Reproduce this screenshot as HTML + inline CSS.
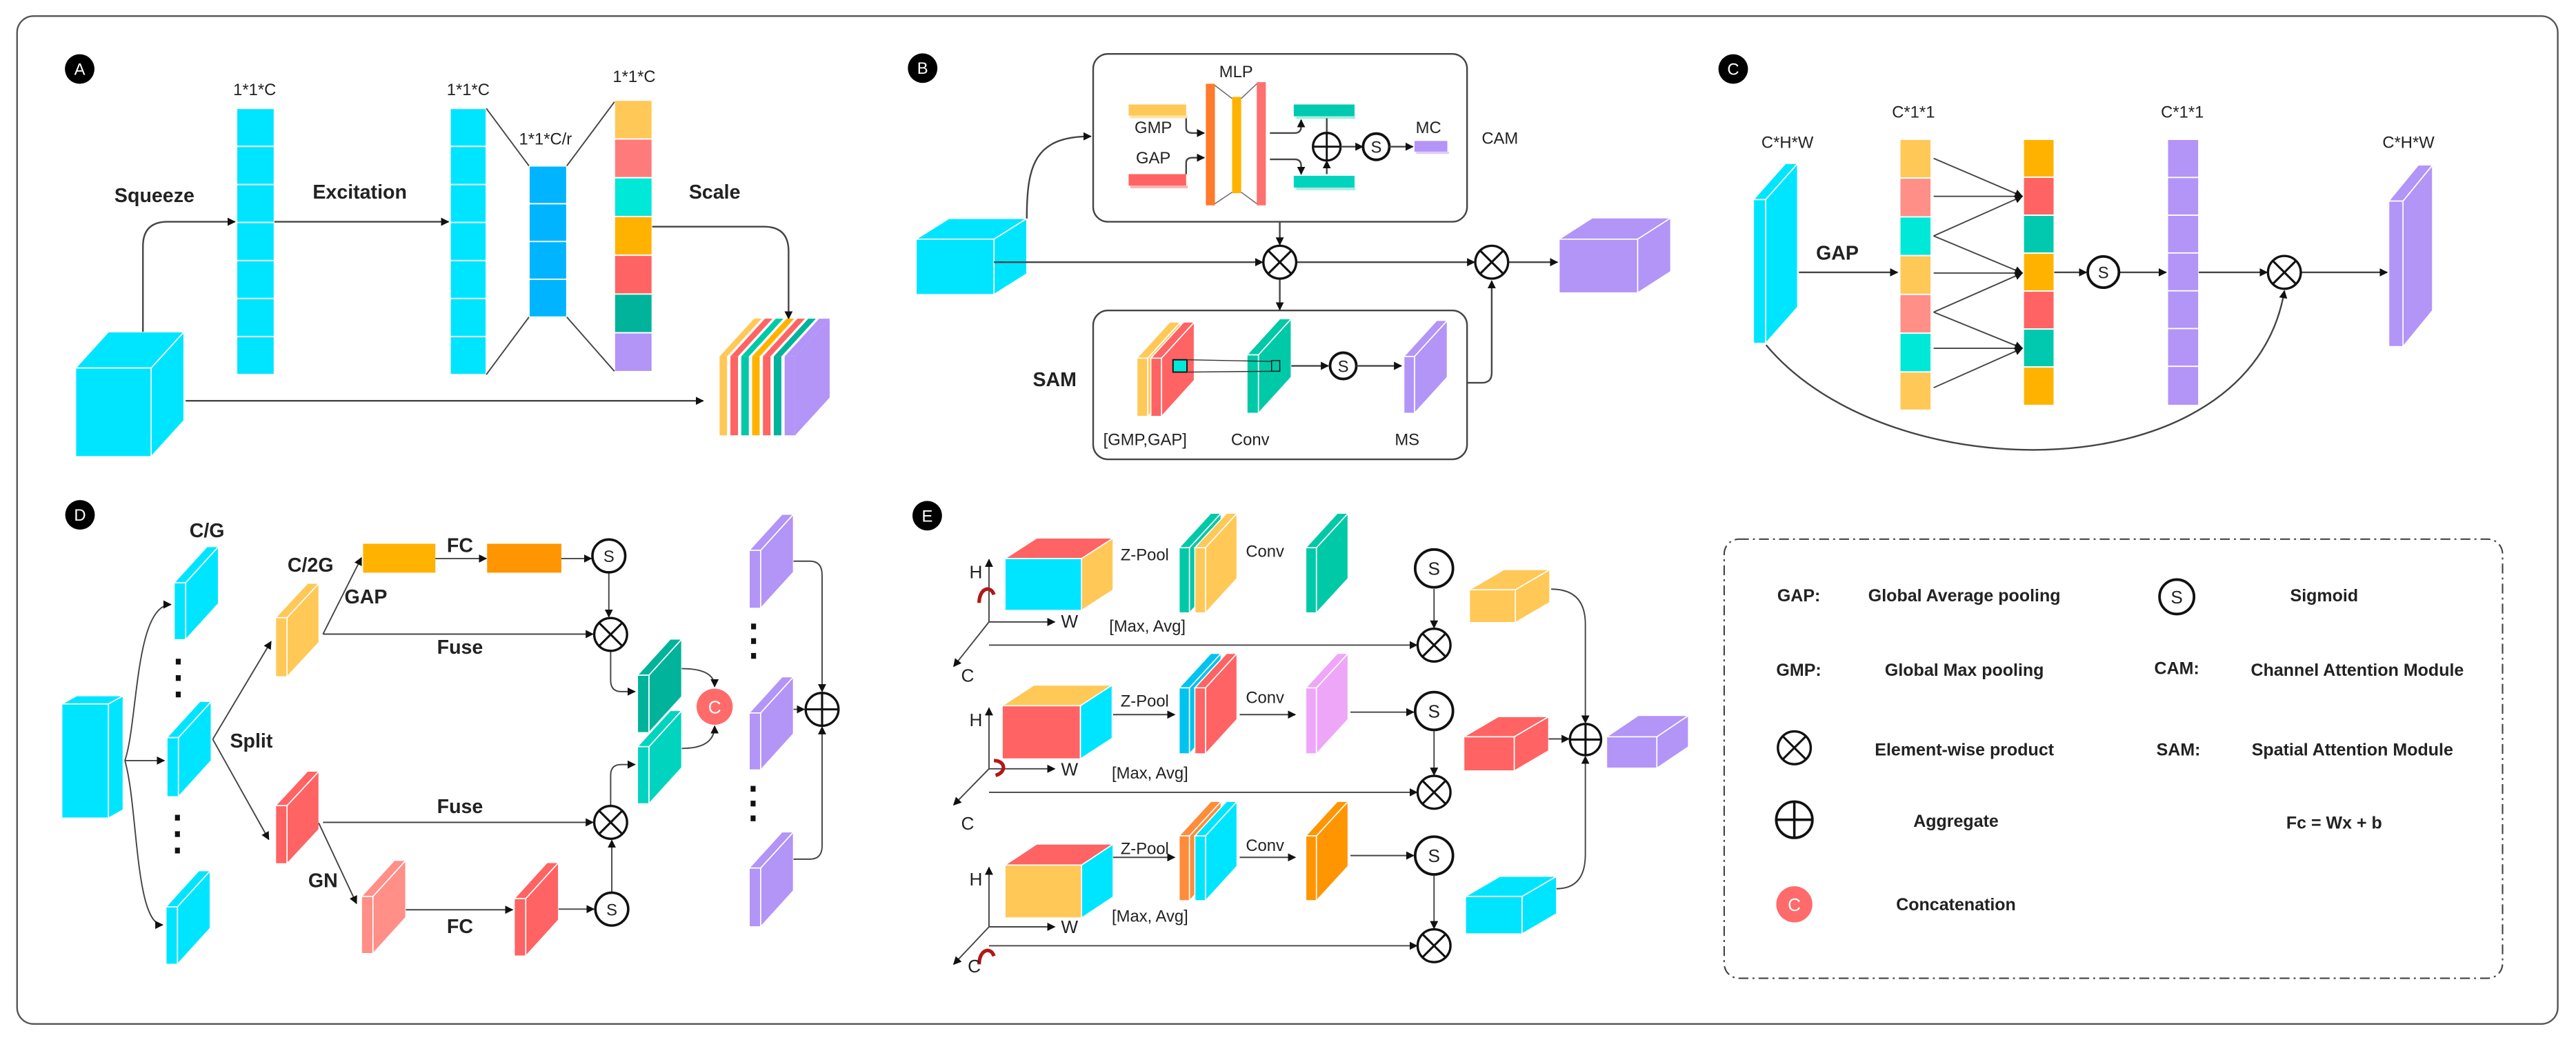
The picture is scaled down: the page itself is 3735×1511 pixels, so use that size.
<!DOCTYPE html>
<html><head><meta charset="utf-8"><style>
html,body{margin:0;padding:0;background:#fff;}
svg{display:block;}
text{font-family:"Liberation Sans",Arial,sans-serif;fill:#222;}
.b{font-weight:bold;}
.ln{stroke:#444;stroke-width:1;fill:none;}
.s{stroke:#fff;stroke-width:0.7;}
</style></head><body>
<svg width="3735" height="1511" viewBox="0 0 1568 634.3" preserveAspectRatio="none" xmlns="http://www.w3.org/2000/svg">
<defs>
<marker id="a" viewBox="0 0 10 10" refX="9" refY="5" markerWidth="5" markerHeight="5" orient="auto" markerUnits="userSpaceOnUse"><path d="M0,0L10,5L0,10z" fill="#111"/></marker>
</defs>
<rect x="0" y="0" width="1568" height="634.3" fill="#fff"/>
<rect x="10.4" y="9.8" width="1546.5" height="613.5" rx="10" fill="none" stroke="#555" stroke-width="1"/>

<!-- badges -->
<g font-size="10" text-anchor="middle">
<circle cx="48.5" cy="42" r="9" fill="#000"/><text x="48.5" y="45.5" style="fill:#fff">A</text>
<circle cx="561.6" cy="41.5" r="9" fill="#000"/><text x="561.6" y="45" style="fill:#fff">B</text>
<circle cx="1055" cy="42" r="9" fill="#000"/><text x="1055" y="45.5" style="fill:#fff">C</text>
<circle cx="48.7" cy="313.4" r="9" fill="#000"/><text x="48.7" y="317" style="fill:#fff">D</text>
<circle cx="564.4" cy="313.9" r="9" fill="#000"/><text x="564.4" y="317.5" style="fill:#fff">E</text>
</g>

<!-- ================= PANEL A ================= -->
<g class="s">
<polygon points="92,224 112,202 112,256 92,278" fill="#00E5FF"/>
<polygon points="46,224 66,202 112,202 92,224" fill="#00E5FF"/>
<rect x="46" y="224" width="46" height="54" fill="#00E5FF"/>
</g>
<g stroke="#fff" stroke-width="0.8">
<rect x="144" y="66" width="23" height="162" fill="#00E5FF"/>
<path d="M144,89.1h23M144,112.3h23M144,135.4h23M144,158.6h23M144,181.7h23M144,204.9h23"/>
<rect x="274" y="66" width="22" height="162" fill="#00E5FF"/>
<path d="M274,89.1h22M274,112.3h22M274,135.4h22M274,158.6h22M274,181.7h22M274,204.9h22"/>
<rect x="322" y="101" width="23" height="92" fill="#00B4FF"/>
<path d="M322,124h23M322,147h23M322,170h23"/>
<rect x="374" y="61" width="23" height="23.6" fill="#FFC857"/>
<rect x="374" y="84.6" width="23" height="23.6" fill="#FF7B7B"/>
<rect x="374" y="108.2" width="23" height="23.6" fill="#00E8D8"/>
<rect x="374" y="131.8" width="23" height="23.6" fill="#FFB300"/>
<rect x="374" y="155.4" width="23" height="23.6" fill="#FF6363"/>
<rect x="374" y="179" width="23" height="23.6" fill="#00B39A"/>
<rect x="374" y="202.6" width="23" height="23.6" fill="#B394F7"/>
</g>
<path d="M296,66L322,101M296,228L322,193M345,101L374,62M345,193L374,226" stroke="#444" stroke-width="0.8" fill="none"/>
<g font-size="10" text-anchor="middle">
<text x="155" y="58">1*1*C</text><text x="285" y="58">1*1*C</text>
<text x="332" y="88">1*1*C/r</text><text x="386" y="50">1*1*C</text>
</g>
<g font-size="12" class="b" text-anchor="middle">
<text x="94" y="123" class="b">Squeeze</text><text x="219" y="121" class="b">Excitation</text><text x="435" y="121" class="b">Scale</text>
</g>
<path class="ln" d="M87,202L87,150Q87,135 102,135L143,135" marker-end="url(#a)"/>
<path class="ln" d="M167,135L273,135" marker-end="url(#a)"/>
<path class="ln" d="M397,138L465,138Q480,138 480,153L480,194" marker-end="url(#a)"/>
<path class="ln" d="M113,244L428,244" marker-end="url(#a)"/>
<!-- striped cube -->
<g>
<polygon points="484,217 505,194 505,242 484,265" fill="#B394F7"/>
<rect x="438" y="217" width="4.6" height="48" fill="#FFC857"/><polygon points="438,217 459,194 463.6,194 442.6,217" fill="#FFC857"/>
<rect x="444.6" y="217" width="4.6" height="48" fill="#FF6363"/><polygon points="444.6,217 465.6,194 470.2,194 449.2,217" fill="#FF6363"/>
<rect x="451.2" y="217" width="4.6" height="48" fill="#00C9A7"/><polygon points="451.2,217 472.2,194 476.8,194 455.8,217" fill="#00C9A7"/>
<rect x="457.8" y="217" width="4.6" height="48" fill="#FFB300"/><polygon points="457.8,217 478.8,194 483.4,194 462.4,217" fill="#FFB300"/>
<rect x="464.4" y="217" width="4.6" height="48" fill="#FF6363"/><polygon points="464.4,217 485.4,194 490,194 469,217" fill="#FF6363"/>
<rect x="471" y="217" width="4.6" height="48" fill="#00B39A"/><polygon points="471,217 492,194 496.6,194 475.6,217" fill="#00B39A"/>
<rect x="477.6" y="217" width="6.4" height="48" fill="#B394F7"/><polygon points="477.6,217 498.6,194 505,194 484,217" fill="#B394F7"/>
</g>

<!-- ================= PANEL B ================= -->
<rect x="665.4" y="32.8" width="227.6" height="102.2" rx="9" fill="none" stroke="#444" stroke-width="1"/>
<rect x="665.4" y="189" width="227.6" height="90.6" rx="9" fill="none" stroke="#444" stroke-width="1"/>
<g class="s">
<polygon points="605,145.6 625,133 625,166.7 605,179.3" fill="#00E5FF"/>
<polygon points="557.6,145.6 577.6,133 625,133 605,145.6" fill="#00E5FF"/>
<rect x="557.6" y="145.6" width="47.4" height="33.7" fill="#00E5FF"/>
<polygon points="996.8,145.6 1017,132.6 1017,165.3 996.8,178.3" fill="#B394F7"/>
<polygon points="949,145.6 969.2,132.6 1017,132.6 996.8,145.6" fill="#B394F7"/>
<rect x="949" y="145.6" width="47.8" height="32.7" fill="#B394F7"/>
</g>
<!-- CAM contents -->
<rect x="687" y="63.6" width="35" height="6.8" fill="#FFC857"/><rect x="688" y="70.4" width="35" height="1.6" fill="#FFE3A6"/>
<rect x="687" y="106" width="35" height="7" fill="#FF6363"/><rect x="688" y="113" width="35" height="1.6" fill="#FFB3B3"/>
<rect x="734" y="51" width="5.5" height="74" fill="#FF7A2A"/>
<rect x="750" y="59" width="5.5" height="58.6" fill="#FFB300"/>
<rect x="765" y="50" width="5.5" height="75" fill="#FF7070"/>
<path d="M739.5,52L750,60M765,51L755.5,60M739.5,124L750,117M765,124L755.5,117" stroke="#666" stroke-width="0.6" fill="none"/>
<rect x="787.5" y="63.6" width="37" height="7.2" fill="#00C9B0"/><rect x="789" y="70.8" width="36" height="1.6" fill="#A5EEE0"/>
<rect x="787.5" y="107" width="37" height="7.2" fill="#00D4BE"/><rect x="789" y="114.2" width="36" height="1.6" fill="#A5EEE0"/>
<rect x="861" y="85.8" width="20" height="6.5" fill="#B394F7"/><rect x="862" y="92.3" width="20" height="1.4" fill="#DCCBFC"/>
<path class="ln" d="M722,72L722,78Q722,81 726,81L733,81" marker-end="url(#a)" stroke-width="0.8"/>
<path class="ln" d="M722,106L722,99Q722,96 726,96L733,96" marker-end="url(#a)" stroke-width="0.8"/>
<path class="ln" d="M773,81L788,81Q792,81 792,77L792,73" marker-end="url(#a)" stroke-width="0.8"/>
<path class="ln" d="M773,97L788,97Q792,97 792,101L792,106" marker-end="url(#a)" stroke-width="0.8"/>
<path class="ln" d="M807.6,72L807.6,80.5M807.6,106L807.6,98" marker-end="url(#a)" stroke-width="0.8"/>
<circle cx="807.6" cy="89.3" r="8.4" fill="#fff" stroke="#111" stroke-width="1.4"/>
<path d="M799.2,89.3h16.8M807.6,80.9v16.8" stroke="#111" stroke-width="1.2"/>
<path class="ln" d="M816,89.3L829.5,89.3" marker-end="url(#a)" stroke-width="0.8"/>
<circle cx="837.7" cy="89.3" r="8" fill="#fff" stroke="#111" stroke-width="1.6"/>
<text x="837.7" y="93" font-size="10" text-anchor="middle">S</text>
<path class="ln" d="M845.7,89.3L860,89.3" marker-end="url(#a)" stroke-width="0.8"/>
<g font-size="10" text-anchor="middle">
<text x="752.4" y="47">MLP</text>
<text x="702" y="81">GMP</text><text x="702" y="99.5">GAP</text>
<text x="869.5" y="81">MC</text><text x="913" y="87.5">CAM</text>
<text x="697" y="271">[GMP,GAP]</text><text x="761" y="271">Conv</text><text x="856.5" y="271">MS</text>
</g>
<text x="642" y="235" font-size="12" class="b" text-anchor="middle">SAM</text>
<!-- SAM contents -->
<g class="s">
<polygon points="698.6,218 718.6,196 718.6,231.5 698.6,253.5" fill="#FFC857"/>
<polygon points="692,218 712,196 718.6,196 698.6,218" fill="#FFC857"/>
<rect x="692" y="218" width="6.6" height="35.5" fill="#FFC857"/>
<polygon points="707,218 727,196 727,231.5 707,253.5" fill="#FF6363"/>
<polygon points="700.5,218 720.5,196 727,196 707,218" fill="#FF6363"/>
<rect x="700.5" y="218" width="6.5" height="35.5" fill="#FF6363"/>
<polygon points="766,216 786,194 786,229.6 766,251.6" fill="#00C9A7"/>
<polygon points="759,216 779,194 786,194 766,216" fill="#00C9A7"/>
<rect x="759" y="216" width="7" height="35.6" fill="#00C9A7"/>
<polygon points="861,217 881,195 881,229.6 861,251.6" fill="#B394F7"/>
<polygon points="854.5,217 874.5,195 881,195 861,217" fill="#B394F7"/>
<rect x="854.5" y="217" width="6.5" height="34.6" fill="#B394F7"/>
</g>
<rect x="714" y="219" width="8.5" height="7.5" fill="#00E8D8" stroke="#111" stroke-width="0.8"/>
<rect x="774" y="219.5" width="5" height="6.5" fill="none" stroke="#111" stroke-width="0.6"/>
<path d="M722.5,219L774,220M722.5,226.5L774,226" stroke="#333" stroke-width="0.6"/>
<path class="ln" d="M786,222.7L808.5,222.7" marker-end="url(#a)" stroke-width="0.8"/>
<circle cx="817.6" cy="222.7" r="8" fill="#fff" stroke="#111" stroke-width="1.6"/>
<text x="817.6" y="226.4" font-size="10" text-anchor="middle">S</text>
<path class="ln" d="M825.6,222.7L853,222.7" marker-end="url(#a)" stroke-width="0.8"/>
<!-- B connectors -->
<path class="ln" d="M625,133C625,100 630,83 664,83" marker-end="url(#a)"/>
<path class="ln" d="M605,159.6L768.5,159.6" marker-end="url(#a)"/>
<path class="ln" d="M789.5,159.6L897.5,159.6" marker-end="url(#a)"/>
<path class="ln" d="M918.5,159.6L948,159.6" marker-end="url(#a)"/>
<path class="ln" d="M779,135L779,149" marker-end="url(#a)"/>
<path class="ln" d="M779,170L779,188.5" marker-end="url(#a)"/>
<path class="ln" d="M893,233L902,233Q908,233 908,227L908,171" marker-end="url(#a)"/>
<g stroke="#111" stroke-width="1.4" fill="#fff">
<circle cx="779" cy="159.6" r="10"/><circle cx="908" cy="159.6" r="10"/>
</g>
<path d="M772,152.6L786,166.6M786,152.6L772,166.6M901,152.6L915,166.6M915,152.6L901,166.6" stroke="#111" stroke-width="1.3"/>

<!-- ================= PANEL C ================= -->
<g class="s">
<polygon points="1074.7,121.5 1094.2,99.5 1094.2,187 1074.7,209" fill="#00E5FF"/>
<polygon points="1067.3,121.5 1086.8,99.5 1094.2,99.5 1074.7,121.5" fill="#00E5FF"/>
<rect x="1067.3" y="121.5" width="7.4" height="87.5" fill="#00E5FF"/>
<polygon points="1462.7,122.4 1480.7,100.4 1480.7,189 1462.7,211" fill="#B394F7"/>
<polygon points="1454,122.4 1472,100.4 1480.7,100.4 1462.7,122.4" fill="#B394F7"/>
<rect x="1454" y="122.4" width="8.7" height="88.6" fill="#B394F7"/>
</g>
<g stroke="#fff" stroke-width="0.8">
<rect x="1156.4" y="84.8" width="19.1" height="23.6" fill="#FFC857"/>
<rect x="1156.4" y="108.4" width="19.1" height="23.6" fill="#FF8F87"/>
<rect x="1156.4" y="132" width="19.1" height="23.6" fill="#00E8D8"/>
<rect x="1156.4" y="155.6" width="19.1" height="23.6" fill="#FFC857"/>
<rect x="1156.4" y="179.2" width="19.1" height="23.6" fill="#FF8F87"/>
<rect x="1156.4" y="202.8" width="19.1" height="23.6" fill="#00E8D8"/>
<rect x="1156.4" y="226.4" width="19.1" height="23.3" fill="#FFC857"/>
<rect x="1231.6" y="84.8" width="18.8" height="23.1" fill="#FFB300"/>
<rect x="1231.6" y="107.9" width="18.8" height="23.1" fill="#FF6363"/>
<rect x="1231.6" y="131" width="18.8" height="23.1" fill="#00C9B0"/>
<rect x="1231.6" y="154.1" width="18.8" height="23.1" fill="#FFB300"/>
<rect x="1231.6" y="177.2" width="18.8" height="23.1" fill="#FF6363"/>
<rect x="1231.6" y="200.3" width="18.8" height="23.1" fill="#00C9B0"/>
<rect x="1231.6" y="223.4" width="18.8" height="23.4" fill="#FFB300"/>
<rect x="1319.3" y="84.8" width="19.1" height="162" fill="#B394F7"/>
<path d="M1319.3,108h19.1M1319.3,131h19.1M1319.3,154h19.1M1319.3,177h19.1M1319.3,200h19.1M1319.3,223h19.1"/>
</g>
<g stroke="#444" stroke-width="0.8" fill="none" marker-end="url(#a)">
<path d="M1177,96.4L1231,119.5"/><path d="M1177,119.5L1231,119.5"/><path d="M1177,143.6L1231,119.5"/>
<path d="M1177,143.6L1231,166.2"/><path d="M1177,166.2L1231,166.2"/><path d="M1177,190L1231,166.2"/>
<path d="M1177,190L1231,212"/><path d="M1177,212L1231,212"/><path d="M1177,236L1231,212"/>
</g>
<g font-size="10" text-anchor="middle">
<text x="1088" y="90">C*H*W</text><text x="1164.7" y="71.5">C*1*1</text>
<text x="1328.4" y="71.5">C*1*1</text><text x="1466" y="90">C*H*W</text>
</g>
<text x="1118.4" y="158" font-size="12" class="b" text-anchor="middle">GAP</text>
<path class="ln" d="M1095,165.8L1155,165.8" marker-end="url(#a)"/>
<path class="ln" d="M1250.4,165.8L1270,165.8" marker-end="url(#a)"/>
<path class="ln" d="M1290.5,165.8L1318.5,165.8" marker-end="url(#a)"/>
<path class="ln" d="M1338.4,165.8L1380,165.8" marker-end="url(#a)"/>
<path class="ln" d="M1401,165.8L1453,165.8" marker-end="url(#a)"/>
<path class="ln" d="M1075,210C1150,300 1370,300 1390.5,177" marker-end="url(#a)" stroke-width="0.8"/>
<circle cx="1280.3" cy="165.6" r="9.5" fill="#fff" stroke="#111" stroke-width="1.6"/>
<text x="1280.3" y="169.4" font-size="10" text-anchor="middle">S</text>
<circle cx="1390.5" cy="165.8" r="10" fill="#fff" stroke="#111" stroke-width="1.4"/>
<path d="M1383.5,158.8L1397.5,172.8M1397.5,158.8L1383.5,172.8" stroke="#111" stroke-width="1.3"/>

<!-- ================= PANEL D ================= -->
<g class="s">
<polygon points="66,428.5 75,423.5 75,493 66,498" fill="#00E5FF"/>
<polygon points="37.6,428.5 46.6,423.5 75,423.5 66,428.5" fill="#00E5FF"/>
<rect x="37.6" y="428.5" width="28.4" height="69.5" fill="#00E5FF"/>
<polygon points="113,354.7 133,332.7 133,367.4 113,389.4" fill="#00E5FF"/><polygon points="106,354.7 126,332.7 133,332.7 113,354.7" fill="#00E5FF"/><rect x="106" y="354.7" width="7" height="34.7" fill="#00E5FF"/>
<polygon points="108.6,449 128.6,427 128.6,463 108.6,485" fill="#00E5FF"/><polygon points="101.6,449 121.6,427 128.6,427 108.6,449" fill="#00E5FF"/><rect x="101.6" y="449" width="7" height="36" fill="#00E5FF"/>
<polygon points="108,552 128,530 128,565 108,587" fill="#00E5FF"/><polygon points="101,552 121,530 128,530 108,552" fill="#00E5FF"/><rect x="101" y="552" width="7" height="35" fill="#00E5FF"/>
<polygon points="174.7,376 194.2,355 194.2,391 174.7,412" fill="#FFC857"/><polygon points="167.7,376 187.2,355 194.2,355 174.7,376" fill="#FFC857"/><rect x="167.7" y="376" width="7" height="36" fill="#FFC857"/>
<polygon points="174.7,490.4 194.2,469.4 194.2,504.8 174.7,525.8" fill="#FF6363"/><polygon points="167.7,490.4 187.2,469.4 194.2,469.4 174.7,490.4" fill="#FF6363"/><rect x="167.7" y="490.4" width="7" height="35.4" fill="#FF6363"/>
<polygon points="227,545.7 247,523.7 247,558.5 227,580.5" fill="#FF8F87"/><polygon points="220,545.7 240,523.7 247,523.7 227,545.7" fill="#FF8F87"/><rect x="220" y="545.7" width="7" height="34.8" fill="#FF8F87"/>
<polygon points="320,547 340,525 340,560 320,582" fill="#FF6363"/><polygon points="313,547 333,525 340,525 320,547" fill="#FF6363"/><rect x="313" y="547" width="7" height="35" fill="#FF6363"/>
<polygon points="395,411 415,389 415,424 395,446" fill="#00B39A"/><polygon points="388,411 408,389 415,389 395,411" fill="#00B39A"/><rect x="388" y="411" width="7" height="35" fill="#00B39A"/>
<polygon points="395,454.5 415,432.5 415,467.3 395,489.3" fill="#00D4BE"/><polygon points="388,454.5 408,432.5 415,432.5 395,454.5" fill="#00D4BE"/><rect x="388" y="454.5" width="7" height="34.8" fill="#00D4BE"/>
<polygon points="463,335 483,313 483,348.3 463,370.3" fill="#B394F7"/><polygon points="456,335 476,313 483,313 463,335" fill="#B394F7"/><rect x="456" y="335" width="7" height="35.3" fill="#B394F7"/>
<polygon points="463,434 483,412 483,446.7 463,468.7" fill="#B394F7"/><polygon points="456,434 476,412 483,412 463,434" fill="#B394F7"/><rect x="456" y="434" width="7" height="34.7" fill="#B394F7"/>
<polygon points="463,528.4 483,506.4 483,542.2 463,564.2" fill="#B394F7"/><polygon points="456,528.4 476,506.4 483,506.4 463,528.4" fill="#B394F7"/><rect x="456" y="528.4" width="7" height="35.8" fill="#B394F7"/>
</g>
<rect x="221" y="331" width="44" height="17.6" fill="#FFB300"/>
<rect x="296.5" y="331" width="45.2" height="17.6" fill="#FF9500"/>
<g fill="#111">
<rect x="107" y="401" width="3" height="3.5"/><rect x="107" y="411" width="3" height="3.5"/><rect x="107" y="421" width="3" height="3.5"/>
<rect x="106.5" y="496" width="3" height="3.5"/><rect x="106.5" y="506" width="3" height="3.5"/><rect x="106.5" y="516" width="3" height="3.5"/>
<rect x="457.2" y="379.6" width="3" height="3.5"/><rect x="457.2" y="388.5" width="3" height="3.5"/><rect x="457.2" y="397.5" width="3" height="3.5"/>
<rect x="456.9" y="478.4" width="3" height="3.5"/><rect x="456.9" y="487.4" width="3" height="3.5"/><rect x="456.9" y="496.4" width="3" height="3.5"/>
</g>
<g font-size="12" class="b" text-anchor="middle">
<text x="126" y="327" class="b">C/G</text><text x="189" y="348" class="b">C/2G</text>
<text x="222.7" y="367.4" class="b">GAP</text><text x="280" y="336" class="b">FC</text>
<text x="280" y="398" class="b">Fuse</text><text x="153" y="455" class="b">Split</text>
<text x="280" y="495" class="b">Fuse</text><text x="196.6" y="540" class="b">GN</text>
<text x="280" y="568" class="b">FC</text>
</g>
<g stroke="#444" stroke-width="0.8" fill="none" marker-end="url(#a)">
<path d="M76,463C84,440 82,368 104,368"/>
<path d="M76,463L100,463"/>
<path d="M76,463C84,490 82,563 99,563"/>
<path d="M129.5,450L165,390.5"/>
<path d="M129.5,450L163.6,511"/>
<path d="M196.6,386L220,339.5"/>
<path d="M265,340L296,340"/>
<path d="M341.7,340L360,340"/>
<path d="M370.6,348.5L370.6,375.5"/>
<path d="M196.6,386L361,386"/>
<path d="M371.7,396L371.7,414Q371.7,421 378,421L386.5,421"/>
<path d="M196.6,500.6L361,500.6"/>
<path d="M371.7,490.5L371.7,472Q371.7,465.4 378,465.4L386.5,465.4"/>
<path d="M372.4,543L372.4,511.5"/>
<path d="M194,501L217,550"/>
<path d="M247,553.8L312,553.8"/>
<path d="M340,553.4L361.5,553.4"/>
<path d="M415,407Q435,407 435,418"/>
<path d="M415,455.6Q435,455.6 435,442"/>
<path d="M483,341.6L493,341.6Q500.4,341.6 500.4,350L500.4,421"/>
<path d="M483,523L493,523Q500.4,523 500.4,515L500.4,442.5"/>
<path d="M483,431.8L489.5,431.8"/>
</g>
<g stroke="#111" stroke-width="1.5" fill="#fff">
<circle cx="370.6" cy="338.4" r="10"/><circle cx="372.4" cy="553.4" r="10"/>
</g>
<g font-size="10" text-anchor="middle"><text x="370.6" y="342.2">S</text><text x="372.4" y="557.2">S</text></g>
<g stroke="#111" stroke-width="1.4" fill="#fff">
<circle cx="371.7" cy="386.2" r="10"/><circle cx="371.7" cy="500.6" r="10"/><circle cx="500.4" cy="431.8" r="10"/>
</g>
<path d="M364.7,379.2L378.7,393.2M378.7,379.2L364.7,393.2M364.7,493.6L378.7,507.6M378.7,493.6L364.7,507.6M490.4,431.8h20M500.4,421.8v20" stroke="#111" stroke-width="1.3"/>
<circle cx="435" cy="430.2" r="11" fill="#FF6B6B"/>
<text x="435" y="434.2" font-size="11" text-anchor="middle" style="fill:#fff">C</text>

<!-- ================= PANEL E ================= -->
<g class="s">
<polygon points="658.3,340 677.6,327.5 677.6,359.1 658.3,371.6" fill="#FFC857"/>
<polygon points="611.7,340 631,327.5 677.6,327.5 658.3,340" fill="#FF6363"/>
<rect x="611.7" y="340" width="46.6" height="31.6" fill="#00E5FF"/>
<polygon points="657.6,429.6 677,417 677,449.4 657.6,462" fill="#00E5FF"/>
<polygon points="610,429.6 629.4,417 677,417 657.6,429.6" fill="#FFC857"/>
<rect x="610" y="429.6" width="47.6" height="32.4" fill="#FF6363"/>
<polygon points="658.3,526.6 677.6,513.8 677.6,546 658.3,558.8" fill="#00E5FF"/>
<polygon points="611.7,526.6 631,513.8 677.6,513.8 658.3,526.6" fill="#FF6363"/>
<rect x="611.7" y="526.6" width="46.6" height="32.2" fill="#FFC857"/>
<!-- row1 slabs -->
<polygon points="724,333.4 743.3,312.4 743.3,352.1 724,373.1" fill="#00C9A7"/><polygon points="717.7,333.4 737,312.4 743.3,312.4 724,333.4" fill="#00C9A7"/><rect x="717.7" y="333.4" width="6.3" height="39.7" fill="#00C9A7"/>
<polygon points="733.8,333.4 753,312.4 753,352.1 733.8,373.1" fill="#FFC857"/><polygon points="727.3,333.4 746.6,312.4 753,312.4 733.8,333.4" fill="#FFC857"/><rect x="727.3" y="333.4" width="6.5" height="39.7" fill="#FFC857"/>
<polygon points="801.3,333.4 820.6,312.4 820.6,352.1 801.3,373.1" fill="#00C9A7"/><polygon points="794.8,333.4 814,312.4 820.6,312.4 801.3,333.4" fill="#00C9A7"/><rect x="794.8" y="333.4" width="6.5" height="39.7" fill="#00C9A7"/>
<!-- row2 slabs -->
<polygon points="724,418.7 743.3,397.7 743.3,437.9 724,458.9" fill="#00C3F0"/><polygon points="717.7,418.7 737,397.7 743.3,397.7 724,418.7" fill="#00C3F0"/><rect x="717.7" y="418.7" width="6.3" height="40.2" fill="#00C3F0"/>
<polygon points="733.8,418.7 753,397.7 753,437.9 733.8,458.9" fill="#FF6363"/><polygon points="727.3,418.7 746.6,397.7 753,397.7 733.8,418.7" fill="#FF6363"/><rect x="727.3" y="418.7" width="6.5" height="40.2" fill="#FF6363"/>
<polygon points="801.3,418.7 820.6,397.7 820.6,437.9 801.3,458.9" fill="#EEA6F8"/><polygon points="794.8,418.7 814,397.7 820.6,397.7 801.3,418.7" fill="#EEA6F8"/><rect x="794.8" y="418.7" width="6.5" height="40.2" fill="#EEA6F8"/>
<!-- row3 slabs -->
<polygon points="724,508.8 743.3,487.8 743.3,527.3 724,548.3" fill="#FF8C3A"/><polygon points="717.7,508.8 737,487.8 743.3,487.8 724,508.8" fill="#FF8C3A"/><rect x="717.7" y="508.8" width="6.3" height="39.5" fill="#FF8C3A"/>
<polygon points="733.8,508.8 753,487.8 753,527.3 733.8,548.3" fill="#00E5FF"/><polygon points="727.3,508.8 746.6,487.8 753,487.8 733.8,508.8" fill="#00E5FF"/><rect x="727.3" y="508.8" width="6.5" height="39.5" fill="#00E5FF"/>
<polygon points="801.3,508.8 820.6,487.8 820.6,527.3 801.3,548.3" fill="#FF9500"/><polygon points="794.8,508.8 814,487.8 820.6,487.8 801.3,508.8" fill="#FF9500"/><rect x="794.8" y="508.8" width="6.5" height="39.5" fill="#FF9500"/>
<!-- right cubes -->
<polygon points="922.4,359 943.4,346.7 943.4,366.7 922.4,379" fill="#FFC857"/><polygon points="894.4,359 915.4,346.7 943.4,346.7 922.4,359" fill="#FFC857"/><rect x="894.4" y="359" width="28" height="20" fill="#FFC857"/>
<polygon points="921.7,448.5 942.7,436.2 942.7,457 921.7,469.3" fill="#FF6363"/><polygon points="891,448.5 912,436.2 942.7,436.2 921.7,448.5" fill="#FF6363"/><rect x="891" y="448.5" width="30.7" height="20.8" fill="#FF6363"/>
<polygon points="926.5,545.7 947.5,533.4 947.5,556.2 926.5,568.5" fill="#00E5FF"/><polygon points="892,545.7 913,533.4 947.5,533.4 926.5,545.7" fill="#00E5FF"/><rect x="892" y="545.7" width="34.5" height="22.8" fill="#00E5FF"/>
<polygon points="1008.5,448.5 1027.8,435.5 1027.8,454.6 1008.5,467.6" fill="#B394F7"/><polygon points="977.9,448.5 997.2,435.5 1027.8,435.5 1008.5,448.5" fill="#B394F7"/><rect x="977.9" y="448.5" width="30.6" height="19.1" fill="#B394F7"/>
</g>
<g stroke="#444" stroke-width="0.8" fill="none" marker-end="url(#a)">
<path d="M602,378.6L602,340.6"/><path d="M602,378.6L642,378.6"/><path d="M602,378.6L580.5,405.7"/>
<path d="M602,468L602,431"/><path d="M602,468L642,468"/><path d="M602,468L580.5,490"/>
<path d="M602,564.2L602,528"/><path d="M602,564.2L642,564.2"/><path d="M602,564.2L580.5,587"/>
</g>
<g stroke="#B01818" stroke-width="2.2" fill="none">
<path d="M596,367C596,358 603,356 605,362"/>
<path d="M605,463C612,463 613,470 606,472"/>
<path d="M596,587C596,578 603,576 605,582"/>
</g>
<g font-size="11" text-anchor="middle">
<text x="594" y="352">H</text><text x="651" y="382">W</text><text x="589" y="415">C</text>
<text x="594" y="442">H</text><text x="651" y="472">W</text><text x="589" y="505">C</text>
<text x="594" y="539">H</text><text x="651" y="568">W</text><text x="593" y="592">C</text>
</g>
<g font-size="10" text-anchor="middle">
<text x="696.8" y="341">Z-Pool</text><text x="770" y="339">Conv</text><text x="698.4" y="384.5">[Max, Avg]</text>
<text x="696.8" y="430">Z-Pool</text><text x="770" y="428">Conv</text><text x="700" y="474">[Max, Avg]</text>
<text x="696.8" y="520">Z-Pool</text><text x="770" y="518">Conv</text><text x="700" y="561">[Max, Avg]</text>
</g>
<g stroke="#444" stroke-width="0.8" fill="none" marker-end="url(#a)">
<path d="M602,392.7L862.5,392.7"/><path d="M872.9,358.5L872.9,382.2"/>
<path d="M677.5,435L715,435"/><path d="M754.6,435L788.4,435"/><path d="M822,433.5L860.5,433.5"/>
<path d="M872.9,445L872.9,471.8"/><path d="M602,482.3L862.5,482.3"/>
<path d="M677.5,521.9L715,521.9"/><path d="M754.6,521.9L788.4,521.9"/><path d="M822,520.8L860.5,520.8"/>
<path d="M872.9,533L872.9,565.2"/><path d="M602,575.7L862.5,575.7"/>
<path d="M944.2,358.6Q965,358.6 965,380L965,440"/>
<path d="M947.4,541Q965,541 965,520L965,460.5"/>
<path d="M942.6,449.8L955,449.8"/>
</g>
<g stroke="#111" stroke-width="1.6" fill="#fff">
<circle cx="872.9" cy="346" r="11.5"/><circle cx="872.9" cy="432.8" r="11.5"/><circle cx="872.9" cy="520.8" r="11.5"/>
</g>
<g font-size="11" text-anchor="middle"><text x="872.9" y="350">S</text><text x="872.9" y="436.8">S</text><text x="872.9" y="524.8">S</text></g>
<g stroke="#111" stroke-width="1.4" fill="#fff">
<circle cx="872.9" cy="392.7" r="10"/><circle cx="872.9" cy="482.3" r="10"/><circle cx="872.9" cy="575.7" r="10"/><circle cx="965.1" cy="450.2" r="9.5"/>
</g>
<path d="M865.9,385.7L879.9,399.7M879.9,385.7L865.9,399.7M865.9,475.3L879.9,489.3M879.9,475.3L865.9,489.3M865.9,568.7L879.9,582.7M879.9,568.7L865.9,582.7M955.6,450.2h19M965.1,440.7v19" stroke="#111" stroke-width="1.3"/>

<!-- ================= LEGEND ================= -->
<rect x="1049.5" y="328.2" width="473.8" height="267.3" rx="9" fill="none" stroke="#444" stroke-width="0.9" stroke-dasharray="6,2.5,1.2,2.5"/>
<g font-size="10.5" class="b" text-anchor="middle">
<text x="1094.9" y="366" class="b">GAP:</text><text x="1195.7" y="366" class="b">Global Average pooling</text>
<text x="1414.7" y="366" class="b">Sigmoid</text>
<text x="1094.9" y="411.4" class="b">GMP:</text><text x="1195.7" y="411.4" class="b">Global Max pooling</text>
<text x="1325" y="410.4" class="b">CAM:</text><text x="1434.9" y="411.4" class="b">Channel Attention Module</text>
<text x="1195.7" y="459.9" class="b">Element-wise product</text>
<text x="1326" y="459.9" class="b">SAM:</text><text x="1431.9" y="459.9" class="b">Spatial Attention Module</text>
<text x="1190.6" y="503.3" class="b">Aggregate</text><text x="1420.8" y="504.3" class="b">Fc = Wx + b</text>
<text x="1190.6" y="554.2" class="b">Concatenation</text>
</g>
<circle cx="1325" cy="363.3" r="10.5" fill="#fff" stroke="#111" stroke-width="1.6"/>
<text x="1325" y="367.3" font-size="11" text-anchor="middle">S</text>
<circle cx="1092.2" cy="455.2" r="10" fill="#fff" stroke="#111" stroke-width="1.4"/>
<path d="M1085.2,448.2L1099.2,462.2M1099.2,448.2L1085.2,462.2" stroke="#111" stroke-width="1.3"/>
<circle cx="1092.2" cy="499" r="11" fill="#fff" stroke="#111" stroke-width="1.6"/>
<path d="M1081.2,499h22M1092.2,488v22" stroke="#111" stroke-width="1.5"/>
<circle cx="1092.2" cy="550.5" r="11" fill="#FF6B6B"/>
<text x="1092.2" y="554.5" font-size="11" text-anchor="middle" style="fill:#fff">C</text>
</svg>
</body></html>
